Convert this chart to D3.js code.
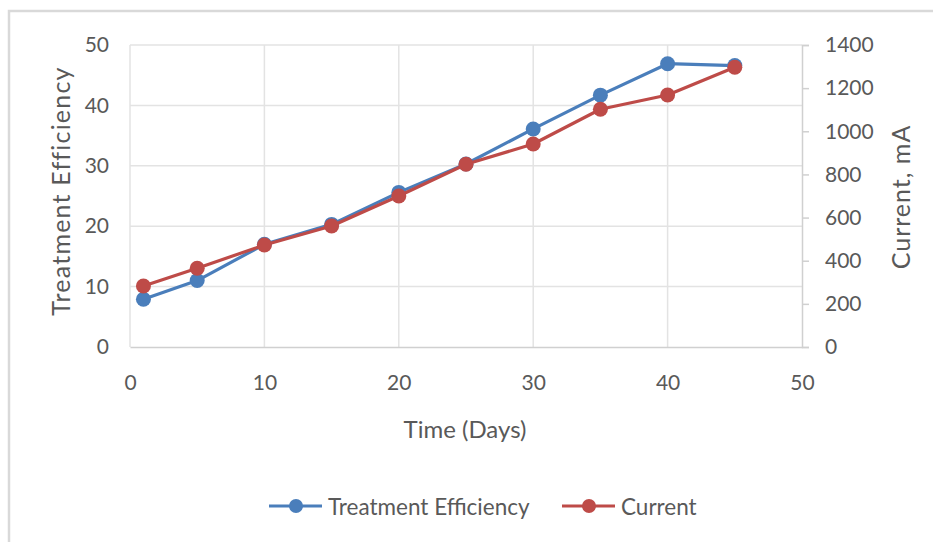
<!DOCTYPE html>
<html>
<head>
<meta charset="utf-8">
<script src="https://cdn.jsdelivr.net/npm/d3@7"></script>
<style>
  html, body { margin: 0; padding: 0; background: #fff; }
  svg { display: block; }
  text { font-family: Lato, "Open Sans", sans-serif; fill: #595959; }
</style>
</head>
<body>
<svg id="chart" width="933" height="542"></svg>
<script>
// Days sampled
const days = [1, 5, 10, 15, 20, 25, 30, 35, 40, 45];
// Treatment efficiency (left axis)
const efficiency = [7.9, 11.0, 17.0, 20.3, 25.6, 30.3, 36.1, 41.7, 46.9, 46.6];
// Current in mA (right axis)
const current = [283, 365, 473, 561, 700, 847, 941, 1102, 1168, 1297];

const xTicks = [0, 10, 20, 30, 40, 50];
const yLeftTicks = [0, 10, 20, 30, 40, 50];
const yRightTicks = [0, 200, 400, 600, 800, 1000, 1200, 1400];

const seriesNames = ["Treatment Efficiency", "Current"];
const colors = ["#4A7EBB", "#BE4B48"];

const svg = d3.select("#chart");
const plot = { left: 130, right: 802, top: 45, bottom: 347 };

const x = d3.scaleLinear().domain([0, 50]).range([plot.left, plot.right]);
const yL = d3.scaleLinear().domain([0, 50]).range([plot.bottom, plot.top]);
const yR = d3.scaleLinear().domain([0, 1400]).range([plot.bottom, plot.top]);

// chart frame
svg.append("path")
  .attr("d", `M9,542 V11 H933`)
  .attr("fill", "none")
  .attr("stroke", "#d9d9d9")
  .attr("stroke-width", 2.5);

// gridlines
const grid = svg.append("g").attr("stroke", "#e3e3e3").attr("stroke-width", 1.5);
grid.selectAll("line.h").data(yLeftTicks.filter(d => d > 0)).join("line")
  .attr("x1", plot.left).attr("x2", plot.right)
  .attr("y1", d => yL(d)).attr("y2", d => yL(d));
grid.selectAll("line.v").data(xTicks.filter(d => d < 50)).join("line")
  .attr("y1", plot.top).attr("y2", plot.bottom)
  .attr("x1", d => x(d)).attr("x2", d => x(d));

// bottom axis
const xAxis = svg.append("g")
  .attr("transform", `translate(0,${plot.bottom})`)
  .call(d3.axisBottom(x).tickValues(xTicks).tickSize(0).tickPadding(28));
xAxis.select(".domain").attr("stroke", "#d0d0d0").attr("stroke-width", 1.5);
xAxis.selectAll("text").attr("font-size", 21).style("fill", "#595959").attr("font-family", "Lato");

// left axis (labels only)
const yAxisL = svg.append("g")
  .attr("transform", `translate(${plot.left},0)`)
  .call(d3.axisLeft(yL).tickValues(yLeftTicks).tickSize(0).tickPadding(21));
yAxisL.select(".domain").remove();
yAxisL.selectAll("text").attr("font-size", 21).style("fill", "#595959").attr("font-family", "Lato");

// right axis
const yAxisR = svg.append("g")
  .attr("transform", `translate(${plot.right},0)`)
  .call(d3.axisRight(yR).tickValues(yRightTicks).tickFormat(d3.format("d")).tickSize(7).tickPadding(16));
yAxisR.select(".domain").attr("stroke", "#d0d0d0").attr("stroke-width", 1.5);
yAxisR.selectAll("line").attr("stroke", "#d0d0d0").attr("stroke-width", 1.5);
yAxisR.selectAll("text").attr("font-size", 21).style("fill", "#595959").attr("font-family", "Lato");

// axis titles
svg.append("text")
  .attr("x", 465).attr("y", 428)
  .attr("text-anchor", "middle").attr("dominant-baseline", "central")
  .attr("font-size", 24).text("Time (Days)");
svg.append("text")
  .attr("transform", "translate(60,191) rotate(-90)")
  .attr("text-anchor", "middle").attr("dominant-baseline", "central")
  .attr("font-size", 25).attr("letter-spacing", 1.2).text("Treatment Efficiency");
svg.append("text")
  .attr("transform", "translate(900,197) rotate(-90)")
  .attr("text-anchor", "middle").attr("dominant-baseline", "central")
  .attr("font-size", 25).attr("letter-spacing", 1).text("Current, mA");

// series
const series = [
  { name: seriesNames[0], color: colors[0], values: efficiency, y: yL },
  { name: seriesNames[1], color: colors[1], values: current, y: yR }
];

series.forEach(s => {
  const pts = days.map((d, i) => [x(d), s.y(s.values[i])]);
  const g = svg.append("g");
  g.append("path")
    .attr("d", d3.line()(pts))
    .attr("fill", "none")
    .attr("stroke", s.color)
    .attr("stroke-width", 3.2)
    .attr("stroke-linejoin", "round");
  g.selectAll("circle").data(pts).join("circle")
    .attr("cx", d => d[0]).attr("cy", d => d[1])
    .attr("r", 7.5).attr("fill", s.color);
});

// legend
const legendItems = [
  { name: seriesNames[0], color: colors[0], x0: 269 },
  { name: seriesNames[1], color: colors[1], x0: 562 }
];
const ly = 506;
legendItems.forEach(it => {
  const g = svg.append("g");
  g.append("line")
    .attr("x1", it.x0).attr("x2", it.x0 + 53)
    .attr("y1", ly).attr("y2", ly)
    .attr("stroke", it.color).attr("stroke-width", 3.2);
  g.append("circle").attr("cx", it.x0 + 27).attr("cy", ly).attr("r", 7).attr("fill", it.color);
  g.append("text")
    .attr("x", it.x0 + 59).attr("y", ly)
    .attr("dominant-baseline", "central")
    .attr("font-size", 22.5).text(it.name);
});
</script>
</body>
</html>
